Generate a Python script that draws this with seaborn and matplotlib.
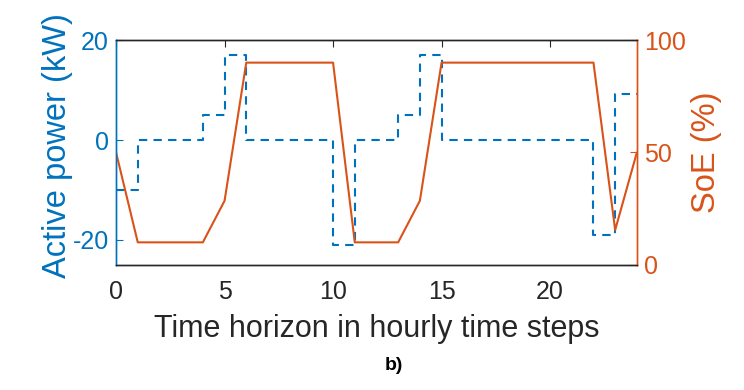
import numpy as np
import pandas as pd
import matplotlib
matplotlib.use("Agg")
import matplotlib.pyplot as plt
import seaborn as sns

# hourly data
hours = list(range(25))
power_kw = [-10, 0, 0, 0, 5, 17, 0, 0, 0, 0, -21, 0, 0, 5, 17,
            0, 0, 0, 0, 0, 0, 0, -19, 9.3, 9.3]
soe_pct = [50, 10, 10, 10, 10, 28.5, 90, 90, 90, 90, 90, 10, 10, 10, 28.5,
           90, 90, 90, 90, 90, 90, 90, 90, 15.5, 50]

blue = '#0072BD'
orange = '#D95319'
dark = '#262626'

sns.set_style('white')
plt.rcParams['font.family'] = ['Liberation Sans', 'DejaVu Sans']
plt.rcParams['axes.unicode_minus'] = False

df = pd.DataFrame({'hour': hours, 'power': power_kw, 'soe': soe_pct})

fig = plt.figure(figsize=(7.44, 3.9), dpi=100)
ax = fig.add_axes([0.156, 0.321, 0.700, 0.576])
ax2 = ax.twinx()

sns.lineplot(data=df, x='hour', y='power', ax=ax, color=blue, lw=1.5,
             drawstyle='steps-post', linestyle=(0, (4, 3)))
sns.lineplot(data=df, x='hour', y='soe', ax=ax2, color=orange, lw=1.5)

ax.set_xlim(0, 24)
ax.set_ylim(-25, 20)
ax2.set_ylim(0, 100)
ax.set_xticks([0, 5, 10, 15, 20])
ax.set_yticks([-20, 0, 20])
ax2.set_yticks([0, 50, 100])

ax.set_xlabel('Time horizon in hourly time steps', fontsize=22, color=dark, labelpad=7)
ax.set_ylabel('Active power (kW)', fontsize=23.5, color=blue, labelpad=0)
ax2.set_ylabel('SoE (%)', fontsize=23.5, color=orange, labelpad=4)
ax.yaxis.label.set_y(0.53)

ax.tick_params(axis='x', direction='in', colors=dark, labelsize=18, length=5,
               top=True, pad=11)
ax.tick_params(axis='y', direction='in', colors=blue, labelsize=18, length=5, pad=5)
ax2.tick_params(axis='y', direction='in', colors=orange, labelsize=18, length=5, pad=5)

for a in (ax, ax2):
    a.spines['top'].set_color(dark)
    a.spines['bottom'].set_color(dark)
    a.spines['left'].set_color(blue)
    a.spines['right'].set_color(orange)
    for s in a.spines.values():
        s.set_linewidth(1.0)

fig.text(0.53, 0.062, 'b)', ha='center', va='center', fontsize=14,
         fontweight='bold', color='black')

fig.savefig('out.png', dpi=100)
